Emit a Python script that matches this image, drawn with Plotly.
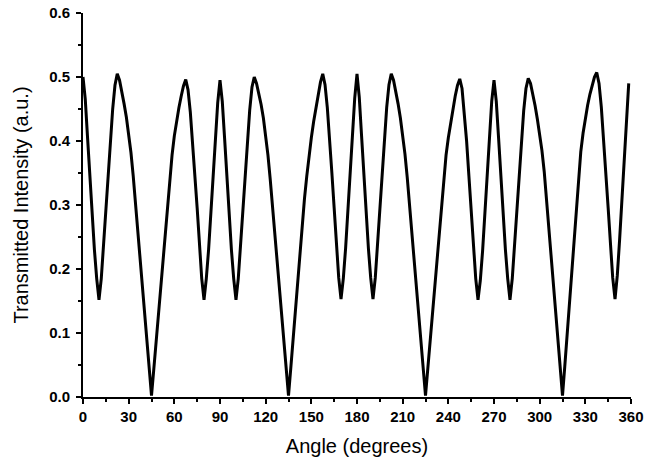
import numpy as np
import plotly.graph_objects as go

seg_0_45 = [0.500, 0.465, 0.405, 0.345, 0.285, 0.230, 0.185, 0.152, 0.185, 0.240,
            0.295, 0.350, 0.405, 0.450, 0.487, 0.505, 0.495, 0.478, 0.458, 0.437,
            0.412, 0.382, 0.345, 0.302, 0.258, 0.214, 0.170, 0.127, 0.085, 0.043,
            0.002]
seg_45_90 = [0.043, 0.085, 0.128, 0.170, 0.213, 0.256, 0.300, 0.342, 0.378, 0.408,
             0.432, 0.452, 0.470, 0.486, 0.496, 0.480, 0.445, 0.400, 0.350, 0.295,
             0.240, 0.185, 0.152, 0.185, 0.230, 0.285, 0.345, 0.405, 0.460, 0.495]
seg_90_135 = [0.462, 0.405, 0.345, 0.285, 0.230, 0.185, 0.152, 0.185, 0.240, 0.295,
              0.350, 0.403, 0.448, 0.484, 0.500, 0.490, 0.475, 0.457, 0.436, 0.410,
              0.378, 0.340, 0.298, 0.255, 0.212, 0.169, 0.127, 0.085, 0.043, 0.002]
seg_135_180 = [0.045, 0.090, 0.135, 0.180, 0.225, 0.270, 0.310, 0.345, 0.377, 0.405,
               0.430, 0.453, 0.474, 0.492, 0.505, 0.488, 0.452, 0.405, 0.350, 0.295,
               0.240, 0.186, 0.153, 0.185, 0.232, 0.290, 0.350, 0.410, 0.467, 0.505]
seg_180_225 = [0.468, 0.408, 0.347, 0.287, 0.232, 0.186, 0.153, 0.186, 0.241, 0.296,
               0.352, 0.407, 0.452, 0.488, 0.505, 0.495, 0.478, 0.458, 0.436, 0.410,
               0.380, 0.343, 0.300, 0.257, 0.213, 0.170, 0.127, 0.085, 0.043, 0.002]
seg_225_270 = [0.044, 0.087, 0.130, 0.173, 0.216, 0.259, 0.302, 0.343, 0.378, 0.405,
               0.428, 0.450, 0.470, 0.487, 0.497, 0.482, 0.446, 0.400, 0.346, 0.291,
               0.236, 0.185, 0.152, 0.182, 0.228, 0.285, 0.345, 0.405, 0.462, 0.495]
seg_270_315 = [0.462, 0.405, 0.345, 0.285, 0.230, 0.185, 0.152, 0.185, 0.240, 0.295,
               0.350, 0.403, 0.447, 0.482, 0.498, 0.490, 0.474, 0.455, 0.434, 0.410,
               0.385, 0.352, 0.308, 0.263, 0.218, 0.173, 0.130, 0.087, 0.044, 0.002]
seg_315_360 = [0.048, 0.097, 0.146, 0.195, 0.244, 0.297, 0.345, 0.383, 0.412, 0.436,
               0.456, 0.473, 0.488, 0.500, 0.507, 0.490, 0.453, 0.405, 0.350, 0.295,
               0.240, 0.186, 0.153, 0.190, 0.245, 0.305, 0.365, 0.430, 0.490]

intensity = (seg_0_45 + seg_45_90 + seg_90_135 + seg_135_180 + seg_180_225
             + seg_225_270 + seg_270_315 + seg_315_360)
angle = np.arange(len(intensity)) * 1.5

x_ticks = [0, 30, 60, 90, 120, 150, 180, 210, 240, 270, 300, 330, 360]
y_ticks = [0.0, 0.1, 0.2, 0.3, 0.4, 0.5, 0.6]
y_labels = ["0.0", "0.1", "0.2", "0.3", "0.4", "0.5", "0.6"]

fig = go.Figure()
fig.add_trace(go.Scatter(x=angle, y=intensity, mode="lines",
                         line=dict(color="black", width=3), showlegend=False))

font = "Liberation Sans, Arial, sans-serif"
tickfont = dict(size=15, family=font, color="black", weight="bold")
fig.update_layout(
    width=645, height=465,
    margin=dict(l=83, r=14, t=13, b=68),
    paper_bgcolor="white", plot_bgcolor="white",
    font=dict(family=font, color="black"),
)
fig.update_xaxes(
    range=[0, 360], tickvals=x_ticks, ticktext=[str(v) for v in x_ticks],
    showline=True, linewidth=2, linecolor="black", mirror=False,
    showgrid=False, zeroline=False, automargin=False,
    ticks="outside", ticklen=5, tickwidth=2, tickcolor="black",
    minor=dict(ticks="outside", dtick=15, tick0=0, ticklen=3, tickwidth=1.5, tickcolor="black", showgrid=False),
    tickfont=tickfont,
    title=dict(text="Angle (degrees)", font=dict(size=20, family=font, color="black")),
)
fig.update_yaxes(
    range=[0, 0.6], tickvals=y_ticks, ticktext=y_labels,
    showline=True, linewidth=2, linecolor="black", mirror=False,
    showgrid=False, zeroline=False, automargin=False,
    ticks="outside", ticklen=5, tickwidth=2, tickcolor="black", ticklabelstandoff=3,
    minor=dict(ticks="outside", dtick=0.05, tick0=0, ticklen=3, tickwidth=1.5, tickcolor="black", showgrid=False),
    tickfont=tickfont,
    title=dict(text="Transmitted Intensity (a.u.)", font=dict(size=20, family=font, color="black")),
)

fig.write_html("out.html", config={"displayModeBar": False},
               post_script="document.body.style.margin='0';document.body.style.overflow='hidden';")
